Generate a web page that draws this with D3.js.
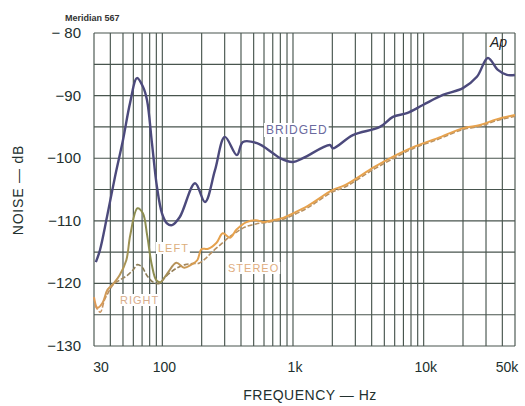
<!DOCTYPE html>
<html><head><meta charset="utf-8">
<script src="https://cdn.jsdelivr.net/npm/d3@7"></script>
<style>
body{margin:0;background:#fff;}
svg{display:block;font-family:"Liberation Sans",Arial,sans-serif;}
</style></head>
<body><svg id="c" width="525" height="406"></svg>
<script>
// ---- data ----
const bridgedFreq = [31,33.3,37.7,43.4,50,56.6,64,71.1,76.3,83.3,91,99.4,108.5,118.5,136,178,212,253,301,372,414,530,703,795,999,1191,1917,2021,2874,4625,5818,7443,9862,14030,19970,25550,31000,36980,43350,49900];
const bridgedDb = [-116.6,-114.7,-109.4,-103.0,-97.1,-91.2,-87.2,-88.6,-90.7,-97.6,-104.6,-108.8,-110.4,-110.7,-109.4,-104.0,-107.0,-101.9,-96.6,-99.5,-97.4,-97.6,-99.2,-100,-100.6,-100,-97.9,-98.4,-96.3,-95.0,-93.4,-92.8,-91.5,-89.9,-88.8,-87.0,-84.0,-85.9,-86.7,-86.7];

const leftFreq = [30,31.9,34.9,38.1,42.4,47.1,53,56.8,64.5,71,76.5,83,90,97,110,128,147,167,185,200,222,260,290,330,370,440,520,600,700,820,1000,1300,2000,2500,4200,6300,8400,12800,20000,27000,36000,50000];
const leftDb = [-122.2,-123.9,-123.1,-121,-120,-118.7,-116.3,-112.3,-108,-108.8,-112.3,-117,-119.5,-119.8,-118.3,-116.7,-117.5,-117,-116.3,-114.5,-114.5,-113.5,-112,-112.7,-111.4,-110.2,-109.9,-110.2,-109.9,-109.6,-108.8,-107.6,-105.1,-104.3,-101.4,-99.4,-98.2,-96.8,-95.2,-94.7,-93.8,-93.1];

const rightFreq = [30.5,33.5,36,38.5,42,47,54,60,64.5,70,76,85,95,105,128,150,178,190,215,240,290,330,370,430,520,600,700,820,1000,1300,2000,2500,4200,6300,8400,12800,20000,27000,36000,50000];
const rightDb = [-123.5,-124.6,-122.7,-121.5,-120.2,-119.5,-118.7,-117.8,-117,-117.4,-118.7,-119.8,-120,-119,-117.6,-117,-116.8,-116.8,-116,-115,-113.5,-112.5,-111.8,-111,-110.5,-110.3,-110.1,-109.8,-109.1,-107.9,-105.4,-104.6,-101.7,-99.7,-98.4,-97,-95.4,-94.9,-94,-93.3];

const xTickVals = [30,100,1000,10000,50000];
const xTickLabels = ["30","100","1k","10k","50k"];
const yTickVals = [-80,-90,-100,-110,-120,-130];
const yTickLabels = ["− 80","−90","−100","−110","−120","−130"];
const xGridVals = [30,40,50,60,70,80,90,100,200,300,400,500,600,700,800,900,1000,2000,3000,4000,5000,6000,7000,8000,9000,10000,20000,30000,40000,50000];
const yGridVals = d3.range(-130,-79,5);

// ---- scales ----
const x = d3.scaleLog().domain([30,50000]).range([94,515]);
const y = d3.scaleLinear().domain([-130,-80]).range([346,33]);
const svg = d3.select("#c");

// grid
const g = svg.append("g").attr("stroke","#48554e").attr("stroke-width",1.15);
g.selectAll("line.v").data(xGridVals).join("line")
  .attr("x1",d=>x(d)).attr("x2",d=>x(d)).attr("y1",y(-80)).attr("y2",y(-130));
g.selectAll("line.h").data(yGridVals).join("line")
  .attr("y1",d=>y(d)).attr("y2",d=>y(d)).attr("x1",x(30)).attr("x2",x(50000));

// curve labels (white knock-out behind, as in the reference)
const lab = (t,xx,yy,c,fs)=>{
  const tx = svg.append("text").attr("x",xx).attr("y",yy).attr("font-size",fs)
    .attr("letter-spacing",1).attr("fill",c).text(t);
  const b = tx.node().getBBox();
  svg.insert("rect","text").attr("x",b.x-2).attr("y",b.y).attr("width",b.width+3).attr("height",b.height)
    .attr("fill","#fff");
  return tx;
};
lab("BRIDGED",266,134,"#6a6a9e",12);
lab("LEFT",158,252,"#dcae7c",11);
lab("STEREO",228,272,"#e0ad80",11);
lab("RIGHT",120,304,"#d8ad8c",11);

// gradient for stereo curves
const defs = svg.append("defs");
function grad(id, stops){
  const lg = defs.append("linearGradient").attr("id",id).attr("gradientUnits","userSpaceOnUse")
    .attr("x1",x(30)).attr("x2",x(200)).attr("y1",0).attr("y2",0);
  stops.forEach(s=>lg.append("stop").attr("offset",s[0]).attr("stop-color",s[1]));
}
grad("gL",[[0,"#e09a55"],[0.2,"#c59a5a"],[0.38,"#8d8e50"],[0.55,"#8d8e50"],[0.72,"#b0905a"],[1,"#e6a24e"]]);
grad("gR",[[0,"#d89860"],[0.25,"#a08860"],[0.45,"#8a7e58"],[0.65,"#8a7a58"],[1,"#b89060"]]);

const line = d3.line().x(d=>x(d[0])).y(d=>y(d[1])).curve(d3.curveCatmullRom.alpha(0.5));

svg.append("path").datum(d3.zip(rightFreq,rightDb)).attr("d",line)
  .attr("fill","none").attr("stroke","url(#gR)").attr("stroke-width",1.6).attr("stroke-dasharray","5,2");
svg.append("path").datum(d3.zip(leftFreq,leftDb)).attr("d",line)
  .attr("fill","none").attr("stroke","url(#gL)").attr("stroke-width",2);
svg.append("path").datum(d3.zip(bridgedFreq,bridgedDb)).attr("d",line)
  .attr("fill","none").attr("stroke","#4c4a7c").attr("stroke-width",2.4);

// axes labels
const ty = svg.append("g").attr("fill","#22302e").attr("font-size",15).attr("text-anchor","end");
ty.selectAll("text").data(yTickVals).join("text")
  .attr("x",81).attr("y",d=>y(d)+5).text((d,i)=>yTickLabels[i]);
const tx = svg.append("g").attr("fill","#22302e").attr("font-size",14).attr("text-anchor","middle");
tx.selectAll("text").data(xTickVals).join("text")
  .attr("x",(d,i)=>x(d)+(i===0?7:i===4?-8:2)).attr("y",372).text((d,i)=>xTickLabels[i]);

svg.append("text").attr("x",310).attr("y",400).attr("text-anchor","middle").attr("font-size",14)
  .attr("fill","#22302e").attr("letter-spacing",0.5).text("FREQUENCY — Hz");
svg.append("text").attr("transform","translate(23,190) rotate(-90)").attr("text-anchor","middle")
  .attr("font-size",14).attr("fill","#22302e").attr("letter-spacing",0.8).text("NOISE — dB");
svg.append("text").attr("x",65).attr("y",21).attr("font-size",9).attr("font-weight","bold")
  .attr("fill","#333").text("Meridian 567");
svg.append("text").attr("x",490).attr("y",47).attr("font-size",14).attr("font-style","italic")
  .attr("fill","#222").text("Ap");
</script></body></html>
